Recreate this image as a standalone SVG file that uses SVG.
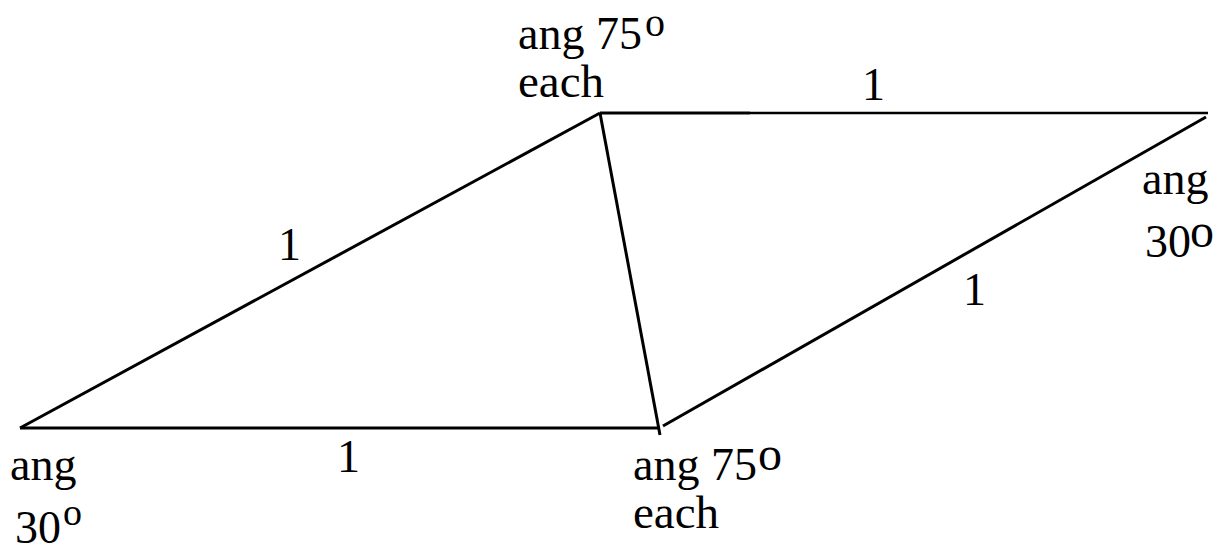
<svg xmlns="http://www.w3.org/2000/svg" width="1224" height="552" viewBox="0 0 1224 552">
<style>
.e{stroke:#000;stroke-width:3;fill:none;stroke-linecap:butt}
.t{font-family:"Liberation Serif","Times New Roman",serif;font-size:46px;fill:#000}
</style>
<rect width="1224" height="552" fill="#fff"/>
<g id="connectors">
<line class="e" x1="20" y1="428" x2="660" y2="428"/>
<line class="e" x1="20" y1="428" x2="600" y2="113"/>
<line class="e" x1="600" y1="113" x2="660" y2="435"/>
<line class="e" x1="600" y1="113" x2="750" y2="113"/>
<line class="e" x1="750" y1="113" x2="1208" y2="113" style="stroke-width:2.5"/>
<line class="e" x1="663" y1="426" x2="1206" y2="117"/>
</g>
<g id="node-top">
<text class="t" x="518" y="49">ang 75</text>
<text class="t" x="645" y="36" style="font-size:40px">o</text>
<text class="t" x="518" y="97" style="font-size:47px">each</text>
</g>
<g id="node-bottom-right">
<text class="t" x="633" y="480">ang 75</text>
<text class="t" x="758" y="470" style="font-size:48px">o</text>
<text class="t" x="633" y="528" style="font-size:47px">each</text>
</g>
<g id="node-bottom-left">
<text class="t" x="10" y="480">ang</text>
<text class="t" x="15" y="543">30</text>
<text class="t" x="63" y="525" style="font-size:38px">o</text>
</g>
<g id="node-right">
<text class="t" x="1142" y="194">ang</text>
<text class="t" x="1145" y="257">30</text>
<text class="t" x="1190" y="247" style="font-size:48px">o</text>
</g>
<g id="labels">
<text class="t" x="862" y="100">1</text>
<text class="t" x="278" y="260">1</text>
<text class="t" x="963" y="305">1</text>
<text class="t" x="337" y="472">1</text>
</g>
</svg>
